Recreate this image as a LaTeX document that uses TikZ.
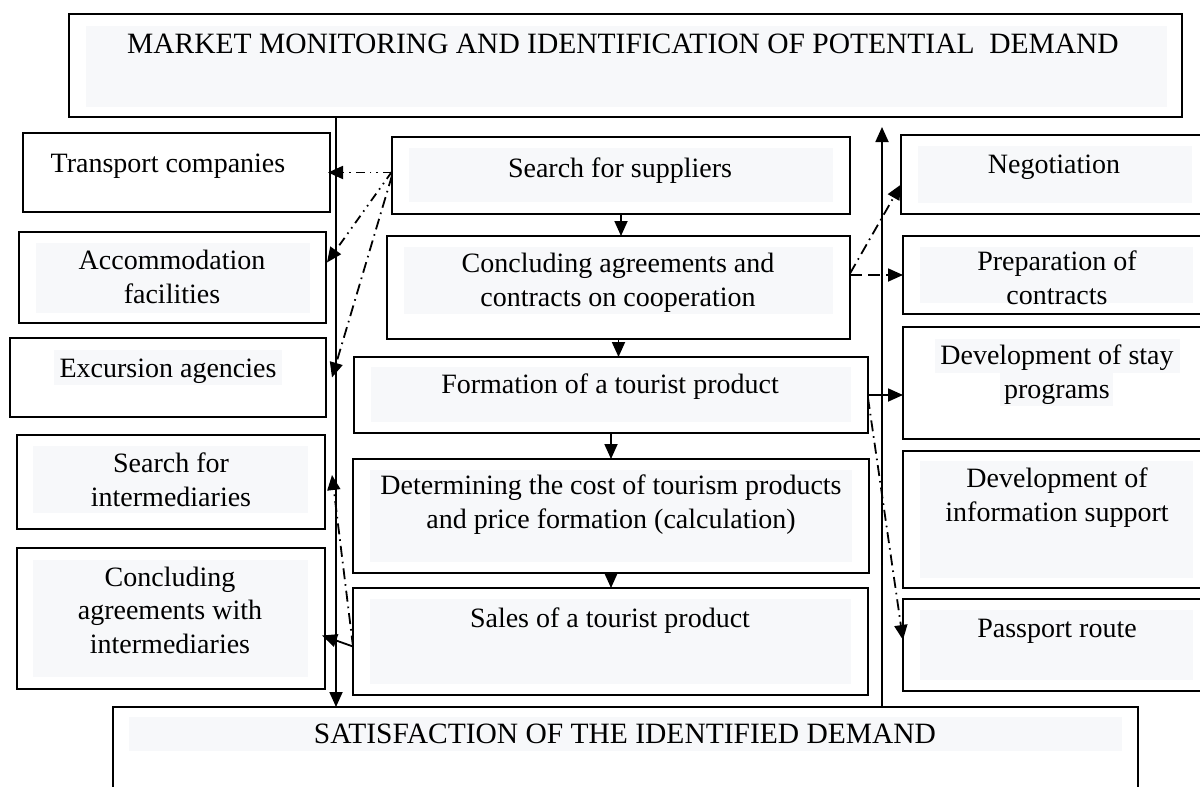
\documentclass[tikz,border=0pt]{standalone}
\usepackage{fontspec}
\setmainfont{Liberation Serif}
\usetikzlibrary{arrows.meta,calc}
\definecolor{boxfill}{HTML}{F7F8FA}
\begin{document}
\begin{tikzpicture}[x=1pt,y=-1pt,
  box/.style={draw, line width=2pt, inner sep=0pt, outer sep=0pt, anchor=north west},
  bg/.style={fill=boxfill},
  txt/.style={font=\fontsize{28}{33.5}\selectfont, align=center, inner sep=0pt, anchor=base},
  captxt/.style={font=\fontsize{29.5}{34}\selectfont, inner sep=0pt, anchor=base},
  conn/.style={line width=1.8pt, -{Triangle[length=15pt,width=13pt]}},
  flow/.style={line width=1.8pt, -{Triangle[length=15pt,width=13pt]}},
  dashdotdot/.style={dash pattern=on 9pt off 5pt on 1.6pt off 5pt on 1.6pt off 5pt},
  dashdot/.style={dash pattern=on 11pt off 5pt on 1.6pt off 5pt},
  longdash/.style={dash pattern=on 12pt off 6pt}]
\useasboundingbox (0,0) rectangle (1200,787);
\fill[white] (0,0) rectangle (1200,787);

% ---------- boxes ----------
\node[box, minimum width=1113pt, minimum height=103pt] (top) at (69,14) {};
\node[box, minimum width=307pt, minimum height=79pt] (trans) at (23,133) {};
\node[box, minimum width=307pt, minimum height=91pt] (acc) at (19,232) {};
\node[box, minimum width=316pt, minimum height=79pt] (exc) at (10,338) {};
\node[box, minimum width=308pt, minimum height=94pt] (sint) at (17,435) {};
\node[box, minimum width=308pt, minimum height=141pt] (cint) at (17,548) {};
\node[box, minimum width=458pt, minimum height=77pt] (sup) at (392,137) {};
\node[box, minimum width=463pt, minimum height=103pt] (cc) at (387,236) {};
\node[box, minimum width=514pt, minimum height=76pt] (form) at (354,357) {};
\node[box, minimum width=516pt, minimum height=114pt] (det) at (353,459) {};
\node[box, minimum width=515pt, minimum height=107pt] (sales) at (353,588) {};
\node[box, minimum width=320pt, minimum height=79pt] (neg) at (901,135) {};
\node[box, minimum width=320pt, minimum height=78pt] (prep) at (903,236) {};
\node[box, minimum width=320pt, minimum height=112pt] (dstay) at (903,327) {};
\node[box, minimum width=320pt, minimum height=137pt] (dinfo) at (903,451) {};
\node[box, minimum width=320pt, minimum height=92pt] (pass) at (903,599) {};
\node[box, minimum width=1025pt, minimum height=120pt] (sat) at (113,707) {};

% ---------- text backgrounds ----------
\fill[bg] (86,26) rectangle (1167,107);
\fill[bg] (36,243) rectangle (310,313);
\fill[bg] (54,350) rectangle (282,385);
\fill[bg] (33,446) rectangle (308,513);
\fill[bg] (33,560) rectangle (308,677);
\fill[bg] (409,148) rectangle (833,202);
\fill[bg] (404,247) rectangle (833,314);
\fill[bg] (371,367) rectangle (851,422);
\fill[bg] (370,470) rectangle (852,562);
\fill[bg] (370,599) rectangle (851,684);
\fill[bg] (918,146) rectangle (1192,203);
\fill[bg] (920,247) rectangle (1193,303);
\fill[bg] (935,339) rectangle (1180,373);
\fill[bg] (1000,373) rectangle (1113,406);
\fill[bg] (920,461) rectangle (1193,578);
\fill[bg] (920,610) rectangle (1193,680);
\fill[bg] (129,717) rectangle (1122,751);

% ---------- texts (base = baseline of last line) ----------
\node[captxt] (ttop) at (623,53) {MARKET MONITORING AND IDENTIFICATION OF POTENTIAL\ \ DEMAND};
\node[txt] (ttrans) at (168,172) {Transport companies};
\node[txt] (tacc) at (172,303) {Accommodation\\facilities};
\node[txt] (texc) at (168,377) {Excursion agencies};
\node[txt] (tsint) at (171,506) {Search for\\intermediaries};
\node[txt] (tcint) at (170,653) {Concluding\\agreements with\\intermediaries};
\node[txt] (tsup) at (620,177) {Search for suppliers};
\node[txt] (tcc) at (618,306) {Concluding agreements and\\contracts on cooperation};
\node[txt] (tform) at (610,393) {Formation of a tourist product};
\node[txt] (tdet) at (611,528) {Determining the cost of tourism products\\and price formation (calculation)};
\node[txt] (tsales) at (610,627) {Sales of a tourist product};
\node[txt] (tneg) at (1054,173) {Negotiation};
\node[txt] (tprep) at (1057,304) {Preparation of\\contracts};
\node[txt] (tdstay) at (1057,398) {Development of stay\\programs};
\node[txt] (tdinfo) at (1057,521) {Development of\\information support};
\node[txt] (tpass) at (1057,637) {Passport route};
\node[captxt] (tsat) at (625,743) {SATISFACTION OF THE IDENTIFIED DEMAND};

% ---------- main flow ----------
\draw[flow] (sup.south) -- (cc.north -| sup.south);
\draw[flow] (cc.south) -- (form.north -| cc.south);
\draw[flow] (form.south -| det.north) -- (det.north);
\draw[flow] (det.south) -- (sales.north -| det.south);

% vertical lines
\coordinate (lx) at (336,0);
\coordinate (rx) at (882,0);
\draw[flow] (top.south -| lx) -- (sat.north -| lx);
\draw[flow] (sat.north -| rx) -- ([yshift=-10pt]top.south -| rx);

% ---------- left connectors ----------
\draw[conn, dashdotdot] (sup.west |- trans.east) -- ([xshift=-2pt]trans.east);
\draw[conn, dashdotdot] ([yshift=4pt]sup.west) -- ([shift={(1,-15)}]acc.east);
\draw[conn, dashdot] ([yshift=0pt]sup.west) -- ([xshift=6pt]exc.east);
\draw[conn] ([yshift=-5pt]sales.west) -- ([shift={(-3,17)}]cint.east);
\draw[conn, dashdot] ([yshift=-5pt]sales.west) -- ([shift={(7,-7)}]sint.east);

% ---------- right connectors ----------
\draw[conn, dashdot] ([yshift=14pt]cc.east) -- ([yshift=-10pt]neg.west);
\draw[conn, longdash] (cc.east |- prep.west) -- (prep.west);
\draw[conn] (form.east) -- (form.east -| dstay.west);
\draw[conn, dashdot] ([yshift=-3pt]form.east) -- ([yshift=5pt]pass.west);
\end{tikzpicture}
\end{document}
